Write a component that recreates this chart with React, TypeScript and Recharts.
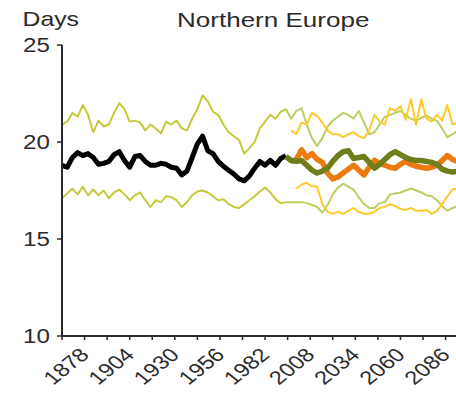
import { LineChart, Line, XAxis, YAxis } from 'recharts'

// historical period, 3-year steps
const histYears = [
  1865, 1868, 1871, 1874, 1877, 1880, 1883, 1886, 1889, 1892, 1895,
  1898, 1901, 1904, 1907, 1910, 1913, 1916, 1919, 1922, 1925, 1928,
  1931, 1934, 1937, 1940, 1943, 1946, 1949, 1952, 1955, 1958, 1961,
  1964, 1967, 1970, 1973, 1976, 1979, 1982, 1985, 1988, 1991, 1994,
]
const observed = [
  18.8, 18.7, 19.2, 19.45, 19.3, 19.4, 19.2, 18.85, 18.9, 19.0, 19.35,
  19.5, 19.05, 18.7, 19.25, 19.3, 19.0, 18.8, 18.8, 18.9, 18.85, 18.7,
  18.65, 18.3, 18.5, 19.2, 19.9, 20.3, 19.55, 19.4, 19.0, 18.75, 18.55,
  18.35, 18.1, 18.0, 18.25, 18.65, 19.0, 18.8, 19.05, 18.8, 19.15, 19.3,
]
const histUpper = [
  20.9, 21.05, 21.5, 21.3, 21.9, 21.4, 20.5, 21.1, 20.8, 20.9, 21.5,
  22.0, 21.7, 21.05, 21.1, 21.0, 20.6, 20.9, 20.7, 20.45, 21.05, 20.9,
  21.1, 20.7, 20.6, 21.2, 21.7, 22.4, 22.1, 21.55, 21.4, 20.9, 20.5,
  20.3, 20.1, 19.4, 19.7, 20.0, 20.7, 21.05, 21.4, 21.2, 21.55, 21.7,
]
const histLower = [
  17.1, 17.35, 17.6, 17.3, 17.7, 17.25, 17.55, 17.25, 17.5, 17.1, 17.4,
  17.55, 17.3, 17.0, 17.25, 17.4, 17.0, 16.65, 17.0, 16.9, 17.2, 17.15,
  17.0, 16.65, 16.9, 17.25, 17.45, 17.5, 17.4, 17.2, 17.0, 17.05, 16.8,
  16.65, 16.6, 16.8, 17.0, 17.2, 17.45, 17.65, 17.4, 17.05, 16.85, 16.9,
]

// scenario period
const futureYears = [
  1994, 1997, 2000, 2003, 2006, 2009, 2012, 2015, 2018, 2021, 2024, 2027,
  2030, 2033, 2036, 2039, 2042, 2045, 2048, 2051, 2054, 2057, 2060, 2063,
  2066, 2069, 2072, 2075, 2078, 2081, 2084, 2087, 2090, 2093,
]
const oliveMean = [
  19.25, 19.05, 19.0, 19.05, 18.8, 18.55, 18.4, 18.5, 18.65, 19.0, 19.3, 19.5,
  19.55, 19.15, 19.2, 19.25, 18.95, 18.65, 18.85, 19.1, 19.35, 19.5, 19.35, 19.2,
  19.1, 19.05, 19.05, 19.0, 18.95, 18.85, 18.6, 18.5, 18.45, 18.5,
]
const oliveUpper = [
  21.7, 21.2, 21.6, 21.75, 20.9, 20.2, 19.8, 20.2, 20.8, 21.1, 21.3, 21.5,
  21.4, 21.2, 21.6, 21.0, 20.4, 20.5, 20.9, 21.3, 21.4, 21.5, 21.6, 21.4,
  21.2, 21.1, 21.25, 21.35, 21.2, 21.1, 20.7, 20.25, 20.4, 20.6,
]
const oliveLower = [
  16.9, 16.9, 16.9, 16.9, 16.85, 16.75, 16.65, 16.35, 16.75, 17.3, 17.65, 17.85,
  17.7, 17.55, 17.15, 16.8, 16.6, 16.6, 16.85, 16.9, 17.3, 17.35, 17.4, 17.5,
  17.6, 17.5, 17.4, 17.25, 17.2, 17.0, 16.7, 16.45, 16.6, 16.7,
]
const orangeMean = [
  null, 19.0, 19.1, 19.6, 19.2, 19.4, 19.1, 18.95, 18.4, 18.1, 18.2, 18.4,
  18.6, 18.8, 18.55, 18.3, 18.7, 19.05, 18.9, 18.8, 18.7, 18.65, 18.85, 19.0,
  18.85, 18.75, 18.7, 18.65, 18.7, 18.8, 19.05, 19.3, 19.1, 19.0,
]
const orangeUpper = [
  null, 20.6, 20.4, 21.0, 20.9, 21.5, 21.35, 21.0, 20.6, 20.4, 20.4, 20.25,
  20.4, 20.5, 20.3, 20.2, 20.6, 21.4, 21.05, 20.9, 21.75, 21.6, 21.85, 21.15,
  22.2, 20.9, 22.2, 21.2, 21.05, 21.4, 21.1, 21.9, 20.9, 21.0,
]
const orangeLower = [
  null, null, 17.6, 17.8, 17.9, 17.7, 17.7, 16.8, 16.4, 16.3, 16.4, 16.3,
  16.45, 16.6, 16.4, 16.3, 16.3, 16.4, 16.6, 16.65, 16.8, 16.7, 16.55, 16.5,
  16.6, 16.45, 16.45, 16.5, 16.3, 16.45, 16.8, 17.2, 17.55, 17.6,
]

const xTicks = [
  1865, 1878, 1891, 1904, 1917, 1930, 1943, 1956, 1969, 1982, 1995,
  2008, 2021, 2034, 2047, 2060, 2073, 2086,
]
const yTicks = [10, 15, 20, 25]

type Row = Record<string, number | null>
const rowMap = new Map<number, Row>()
const put = (yrs: number[], key: string, vals: (number | null)[]) => {
  yrs.forEach((yr, i) => {
    const row = rowMap.get(yr) ?? { year: yr }
    row[key] = vals[i]
    rowMap.set(yr, row)
  })
}
put(histYears, 'observed', observed)
put(histYears, 'histUpper', histUpper)
put(histYears, 'histLower', histLower)
put(futureYears, 'oliveMean', oliveMean)
put(futureYears, 'oliveUpper', oliveUpper)
put(futureYears, 'oliveLower', oliveLower)
put(futureYears, 'orangeMean', orangeMean)
put(futureYears, 'orangeUpper', orangeUpper)
put(futureYears, 'orangeLower', orangeLower)
const data = [...rowMap.values()].sort((a, b) => (a.year as number) - (b.year as number))

// the source is a bit stretched sideways, text too
const SX = 1.24
const FONT = '"Liberation Sans", Arial, Helvetica, sans-serif'
const INK = '#2b2b2b'

function YTick({ x, y, payload }: any) {
  return (
    <g transform={`translate(${x},${y}) scale(${SX},1)`}>
      <text textAnchor="end" dy="0.36em" fontSize={19.5} fontFamily={FONT} fill={INK}>
        {payload.value}
      </text>
    </g>
  )
}

function XTick({ x, y, payload }: any) {
  if ((payload.value - 1878) % 26 !== 0) return <g />
  return (
    <g transform={`translate(${x},${y}) scale(${SX},1) rotate(-45)`}>
      <text textAnchor="end" dx={-8} dy={14.5} fontSize={19} fontFamily={FONT} fill={INK}>
        {payload.value}
      </text>
    </g>
  )
}

const line = { type: 'linear' as const, dot: false, isAnimationActive: false, strokeLinejoin: 'round' as const }

export default function App() {
  return (
    <div style={{ position: 'fixed', left: 0, top: 0, width: 456, height: 397, overflow: 'hidden', background: '#fff' }}>
      <LineChart width={456} height={397} data={data} margin={{ top: 45, right: 0, left: 0, bottom: 0 }}>
        <XAxis
          dataKey="year"
          type="number"
          domain={[1865, 2092]}
          allowDataOverflow
          ticks={xTicks}
          interval={0}
          tick={<XTick />}
          tickSize={4}
          tickMargin={0}
          height={61}
          axisLine={{ stroke: INK, strokeWidth: 2 }}
          tickLine={{ stroke: INK, strokeWidth: 1.5 }}
        />
        <YAxis
          domain={[10, 25]}
          ticks={yTicks}
          interval={0}
          tick={<YTick />}
          tickSize={5}
          tickMargin={7}
          width={62}
          axisLine={{ stroke: INK, strokeWidth: 2 }}
          tickLine={{ stroke: INK, strokeWidth: 1.5 }}
        />
        <Line {...line} dataKey="histUpper" stroke="#c6c93a" strokeWidth={2} />
        <Line {...line} dataKey="histLower" stroke="#c6c93a" strokeWidth={2} />
        <Line {...line} dataKey="oliveUpper" stroke="#bccd62" strokeWidth={2} />
        <Line {...line} dataKey="oliveLower" stroke="#bccd62" strokeWidth={2} />
        <Line {...line} dataKey="orangeUpper" stroke="#ffca2c" strokeWidth={2} />
        <Line {...line} dataKey="orangeLower" stroke="#ffca2c" strokeWidth={2} />
        <Line {...line} dataKey="observed" stroke="#000000" strokeWidth={5} />
        <Line {...line} dataKey="orangeMean" stroke="#ec7a10" strokeWidth={5.5} />
        <Line {...line} dataKey="oliveMean" stroke="#6f7d1b" strokeWidth={5.5} />
      </LineChart>
      <svg width={456} height={40} style={{ position: 'absolute', left: 0, top: 0, pointerEvents: 'none' }}>
        <text transform={`translate(22.5,26) scale(${SX},1)`} fontSize={20} fontFamily={FONT} fill={INK}>
          Days
        </text>
        <text transform={`translate(177,27) scale(${SX},1)`} fontSize={21} fontFamily={FONT} fill={INK}>
          Northern Europe
        </text>
      </svg>
    </div>
  )
}
